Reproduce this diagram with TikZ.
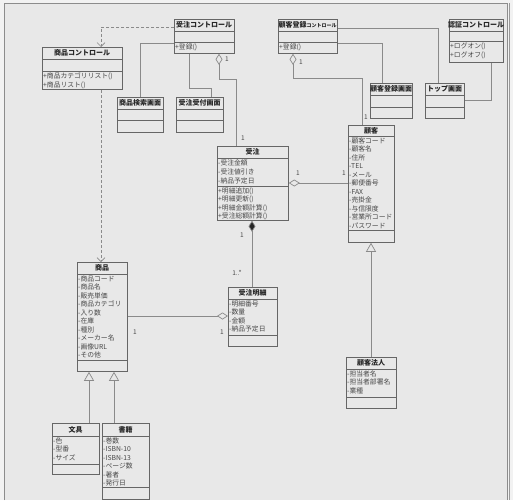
\documentclass[tikz,border=0pt]{standalone}
\usepackage{fontspec}
\setmainfont{Noto Sans CJK JP}
\usetikzlibrary{arrows.meta}
\definecolor{bg}{HTML}{E8E8E8}
\definecolor{outerbg}{HTML}{F2F2F2}
\definecolor{framec}{HTML}{8C8C8C}
\definecolor{boxline}{HTML}{666666}
\definecolor{connc}{HTML}{8A8A8A}
\definecolor{txt}{HTML}{484848}
\tikzset{
 umlbox/.style={draw=boxline, line width=0.8pt, fill=bg, inner sep=0, anchor=north west},
 sepline/.style={draw=boxline, line width=0.6pt},
 ttl/.style={font=\fontsize{7}{8}\selectfont\bfseries, text=black!85, inner sep=0},
 attr/.style={font=\fontsize{6.8}{8.5}\selectfont, text=txt, align=left, inner sep=0, anchor=north west},
 conn/.style={draw=connc, line width=0.7pt},
 dep/.style={conn, dash pattern=on 3pt off 2pt, -{Straight Barb[length=4pt,width=8pt]}},
 agg/.style={conn, {Diamond[open,length=11pt,width=7pt,fill=bg]}-},
 comp/.style={conn, {Diamond[length=11pt,width=7pt,fill=black!85]}-},
 gen/.style={conn, {Triangle[open,length=9pt,width=10pt,fill=bg]}-},
 mult/.style={font=\fontsize{6.5}{7}\selectfont, text=txt, inner sep=0},
}
\newcommand\umlclass[8]{%
 \node[umlbox, minimum width=#4pt, minimum height={(#5-#3)*1pt}] (#1) at (#2,#3) {};
 \draw[sepline] (#2,#6) -- ++(#4,0);
 \draw[sepline] (#2,#7) -- ++(#4,0);
 \node[ttl] at ({#2+#4/2},{(#3+#6)/2}) {#8};
}
\begin{document}
\begin{tikzpicture}[x=1pt,y=-1pt]
\useasboundingbox (0,0) rectangle (513,500);
\fill[outerbg] (0,0) rectangle (513,500);
\fill[bg] (4,3) rectangle (507,500);
\draw[framec, line width=0.8pt] (4,500) -- (4,3) -- (507,3) -- (507,500);
\draw[black!40, line width=0.6pt] (509,3) -- (509,500);

% classes
\umlclass{jc}{174}{19}{60}{53}{31}{42}{受注コントロール}
\umlclass{sc}{42}{47}{80}{89}{59}{71}{商品コントロール}
\umlclass{ss}{117}{97}{46}{132}{109}{120}{商品検索画面}
\umlclass{ju}{176}{97}{47}{132}{109}{120}{受注受付画面}
\umlclass{kc}{278}{19}{59}{53}{31}{42}{顧客登録{\fontsize{5}{6}\selectfont コントロール}}
\umlclass{kg}{370}{83}{42}{118}{95}{107}{顧客登録画面}
\umlclass{tp}{425}{83}{39}{118}{95}{107}{トップ画面}
\umlclass{nc}{449}{19}{54}{62}{31}{41}{認証コントロール}
\umlclass{kk}{348}{125}{46}{242}{136}{230}{顧客}
\umlclass{jo}{217}{146}{71}{220}{158}{186}{受注}
\umlclass{jm}{228}{287}{49}{346}{299}{335}{受注明細}
\umlclass{sh}{77}{262}{50}{371}{274}{360}{商品}
\umlclass{kh}{346}{357}{50}{408}{369}{397}{顧客法人}
\umlclass{bg}{52}{423}{47}{474}{436}{464}{文具}
\umlclass{sj}{102}{423}{47}{499}{436}{487}{書籍}

% compartment texts
\node[attr] at (175,44) {+登録()};
\node[attr] at (43,72.5) {+商品カテゴリリスト()\\+商品リスト()};
\node[attr] at (279,44) {+登録()};
\node[attr] at (450,43) {+ログオン()\\+ログオフ()};
\node[attr] at (349,137.5) {-顧客コード\\-顧客名\\-住所\\-TEL\\-メール\\-郵便番号\\-FAX\\-売掛金\\-与信限度\\-営業所コード\\-パスワード};
\node[attr, font=\fontsize{6.8}{9}\selectfont] at (218,159.5) {-受注金額\\-受注値引き\\-納品予定日};
\node[attr] at (218,187.5) {+明細追加()\\+明細更新()\\+明細金額計算()\\+受注総額計算()};
\node[attr] at (229,300.5) {-明細番号\\-数量\\-金額\\-納品予定日};
\node[attr] at (78,275.5) {-商品コード\\-商品名\\-販売単価\\-商品カテゴリ\\-入り数\\-在庫\\-種別\\-メーカー名\\-画像URL\\-その他};
\node[attr] at (347,370.5) {-担当者名\\-担当者部署名\\-業種};
\node[attr] at (53,437.5) {-色\\-型番\\-サイズ};
\node[attr] at (103,437.5) {-巻数\\-ISBN-10\\-ISBN-13\\-ページ数\\-著者\\-発行日};

% connectors
\draw[dep] (jc.west |- 0,27) -| (sc.north -| 101,0);
\draw[dep] (sc.south -| 101,0) -- (sh.north -| 101,0);
\draw[conn] (ss.north -| 140,0) |- (jc.west |- 0,43);
\draw[conn] (jc.south -| 189,0) |- (211,88) -- (ju.north -| 211,0);
\draw[agg] (jc.south -| 219,0) |- (236,79) -- (jo.north -| 236,0);
\draw[conn] (kc.east |- 0,28) -| (tp.north -| 438,0);
\draw[conn] (kc.east |- 0,43) -| (kg.north -| 382,0);
\draw[conn] (nc.south -| 491,0) |- (tp.east |- 0,100);
\draw[agg] (kc.south -| 293,0) |- (362,78) -- (kk.north -| 362,0);
\draw[agg] (jo.east |- 0,183) -- (kk.west |- 0,183);
\draw[comp] (jo.south -| 252,0) -- (jm.north -| 252,0);
\draw[agg] (jm.west |- 0,316) -- (sh.east |- 0,316);
\draw[gen] (kk.south -| 371,0) -- (kh.north -| 371,0);
\draw[gen] (sh.south -| 89,0) -- (bg.north -| 89,0);
\draw[gen] (sh.south -| 114,0) -- (sj.north -| 114,0);

% multiplicities
\node[mult] (m1) at (227,59) {1};
\node[mult] (m2) at (243,138) {1};
\node[mult] (m3) at (301,62) {1};
\node[mult] (m4) at (366,117) {1};
\node[mult] (m5) at (298,173) {1};
\node[mult] (m6) at (344,173) {1};
\node[mult] (m7) at (242,235) {1};
\node[mult] (m8) at (237,273) {1..*};
\node[mult] (m9) at (135,332) {1};
\node[mult] (m10) at (222,332) {1};
\end{tikzpicture}
\end{document}
